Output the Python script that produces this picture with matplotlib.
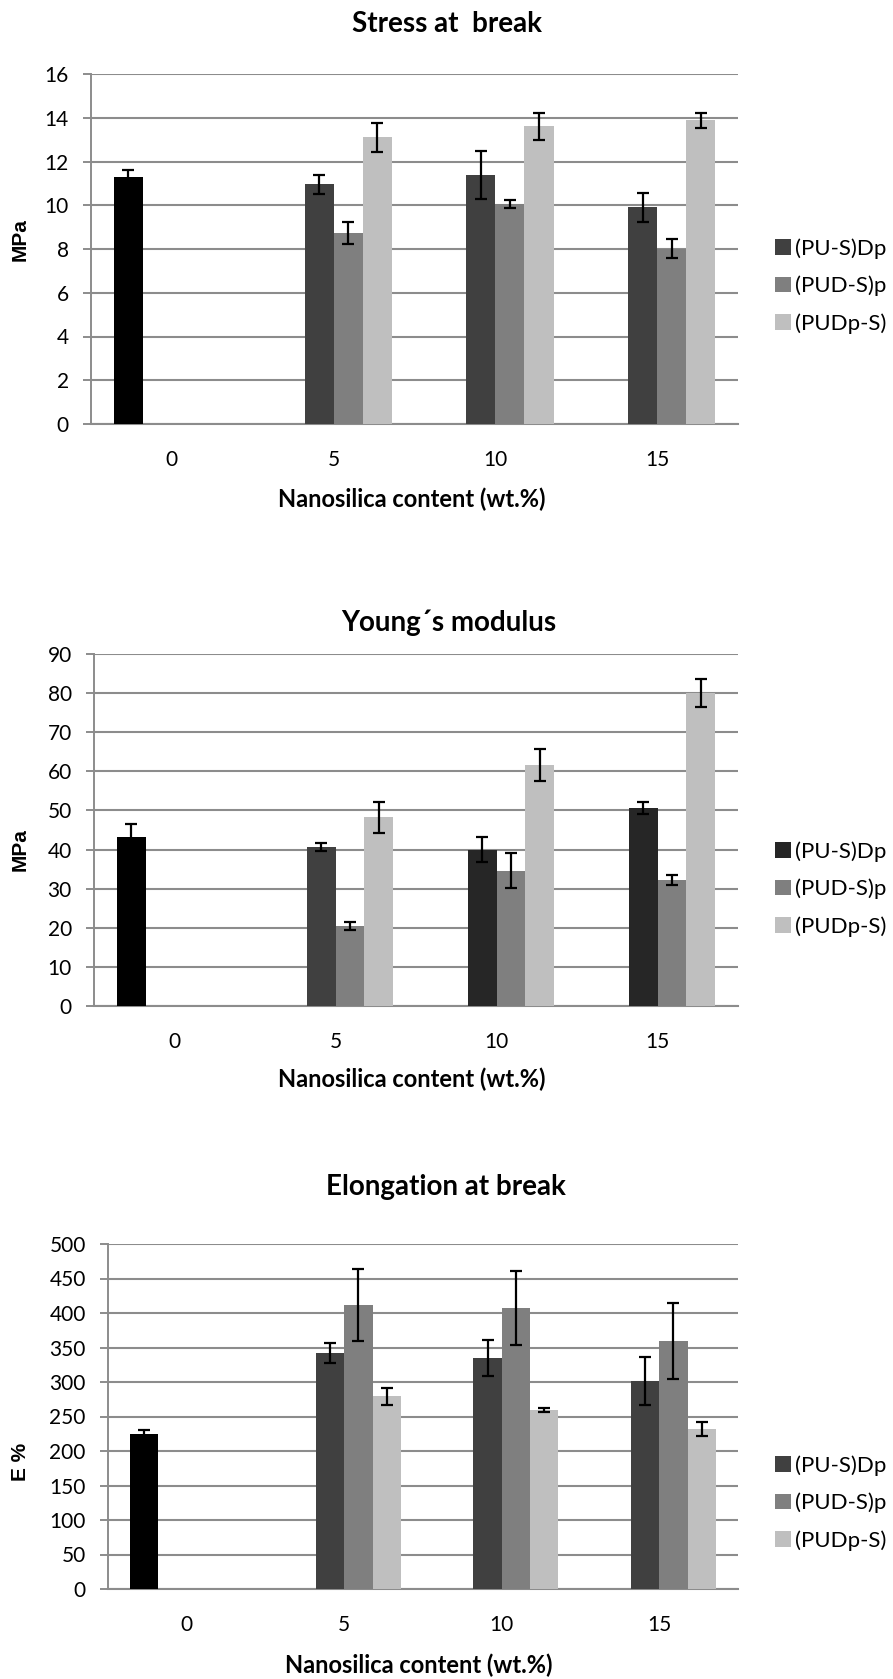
import matplotlib
matplotlib.use("Agg")
import matplotlib.pyplot as plt
from matplotlib.patches import Patch
import numpy as np

categories = ["0", "5", "10", "15"]
series_names = ["(PU-S)Dp", "(PUD-S)p", "(PUDp-S)"]

# Stress at break (MPa)
stress_ctrl, stress_ctrl_err = 11.3, 0.32
stress_dp = [10.95, 11.4, 9.9]
stress_dp_err = [0.42, 1.1, 0.68]
stress_p = [8.75, 10.05, 8.02]
stress_p_err = [0.5, 0.17, 0.45]
stress_s = [13.1, 13.62, 13.88]
stress_s_err = [0.67, 0.62, 0.35]

# Young's modulus (MPa)
young_ctrl, young_ctrl_err = 43.2, 3.3
young_dp = [40.6, 39.9, 50.6]
young_dp_err = [1.0, 3.2, 1.5]
young_p = [20.5, 34.6, 32.2]
young_p_err = [1.0, 4.5, 1.3]
young_s = [48.2, 61.6, 80.0]
young_s_err = [3.9, 4.0, 3.6]

# Elongation at break (E %)
elong_ctrl, elong_ctrl_err = 224, 7
elong_dp = [342, 335, 301]
elong_dp_err = [14, 26, 35]
elong_p = [412, 407, 359]
elong_p_err = [52, 54, 55]
elong_s = [279, 259, 232]
elong_s_err = [12.5, 3, 10.5]

C_CTRL = "#000000"
C_DP = "#404040"
C_DP2 = "#262626"
C_P = "#7f7f7f"
C_S = "#bfbfbf"
GRID = "#8c8c8c"

W, H = 893, 1679
fig = plt.figure(figsize=(W / 100, H / 100), dpi=100)

TICKFONT = dict(family="Lato", size=15)
TITLEFONT = dict(family="Lato", size=20, weight="bold")
XLFONT = dict(family="Lato", size=17, weight="bold")
YLFONT = dict(family="Liberation Sans", size=15, weight="bold")


def px_axes(left, top, right, bottom):
    return fig.add_axes([left / W, 1 - bottom / H, (right - left) / W, (bottom - top) / H])


def panel(box, title, title_xy, ylabel, ylabel_xy, xlabel_xy, ymax, ystep,
          ctrl, ctrl_err, dp, dp_err, p, p_err, s, s_err, dp_colors, legend_y, legend_dp_color):
    ax = px_axes(*box)
    w = 0.18
    x = np.arange(1, len(categories))
    ek = dict(ecolor="black", elinewidth=1.6, capsize=4.3, capthick=1.6)
    ax.bar([0 - 1.5 * w], [ctrl], w, color=C_CTRL, yerr=[ctrl_err], error_kw=ek, zorder=3)
    ax.bar(x - 0.5 * w, dp, w, color=dp_colors, yerr=dp_err, error_kw=ek, zorder=3)
    ax.bar(x + 0.5 * w, p, w, color=C_P, yerr=p_err, error_kw=ek, zorder=3)
    ax.bar(x + 1.5 * w, s, w, color=C_S, yerr=s_err, error_kw=ek, zorder=3)
    ax.set_xlim(-0.5, len(categories) - 0.5)
    ax.set_ylim(0, ymax)
    ax.set_yticks(np.arange(0, ymax + ystep / 2, ystep))
    ax.set_xticks(np.arange(len(categories)))
    ax.set_xticklabels(categories, **TICKFONT)
    for lab in ax.get_yticklabels():
        lab.set_fontfamily("Lato")
        lab.set_fontsize(15)
    ax.tick_params(axis="y", length=6, width=1.4, color=GRID, pad=10)
    ax.tick_params(axis="x", length=0, pad=19)
    ax.grid(axis="y", color=GRID, linewidth=1.5, zorder=0)
    ax.set_axisbelow(True)
    for sp in ["top", "right"]:
        ax.spines[sp].set_visible(False)
    ax.spines["left"].set_color(GRID)
    ax.spines["left"].set_linewidth(1.4)
    ax.spines["bottom"].set_color(GRID)
    ax.spines["bottom"].set_linewidth(1.5)
    fig.text(title_xy[0] / W, 1 - title_xy[1] / H, title, ha="center", va="center", **TITLEFONT)
    fig.text(ylabel_xy[0] / W, 1 - ylabel_xy[1] / H, ylabel, ha="center", va="center",
             rotation=90, **YLFONT)
    fig.text(xlabel_xy[0] / W, 1 - xlabel_xy[1] / H, "Nanosilica content (wt.%)",
             ha="center", va="center", **XLFONT)
    handles = [Patch(facecolor=legend_dp_color), Patch(facecolor=C_P), Patch(facecolor=C_S)]
    fig.legend(handles, series_names, loc="center left",
               bbox_to_anchor=(775 / W, 1 - legend_y / H), frameon=False,
               prop=dict(family="Lato", size=16), handlelength=0.72, handleheight=0.72,
               handletextpad=0.2, labelspacing=0.75, borderpad=0, borderaxespad=0)
    return ax


panel((91, 74, 738, 424), "Stress at  break", (447, 24), "MPa", (20, 240), (412, 499),
      16, 2, stress_ctrl, stress_ctrl_err, stress_dp, stress_dp_err, stress_p, stress_p_err,
      stress_s, stress_s_err, C_DP, 286, C_DP)

panel((94, 654, 738, 1006), "Young\u00b4s modulus", (449, 623), "MPa", (20, 850), (412, 1079),
      90, 10, young_ctrl, young_ctrl_err, young_dp, young_dp_err, young_p, young_p_err,
      young_s, young_s_err, [C_DP, C_DP2, C_DP2], 889, C_DP2)

panel((108, 1244, 738, 1589), "Elongation at break", (446, 1187), "E %", (20, 1462), (419, 1665),
      500, 50, elong_ctrl, elong_ctrl_err, elong_dp, elong_dp_err, elong_p, elong_p_err,
      elong_s, elong_s_err, C_DP, 1503, C_DP)

fig.savefig("out.png", dpi=100)
